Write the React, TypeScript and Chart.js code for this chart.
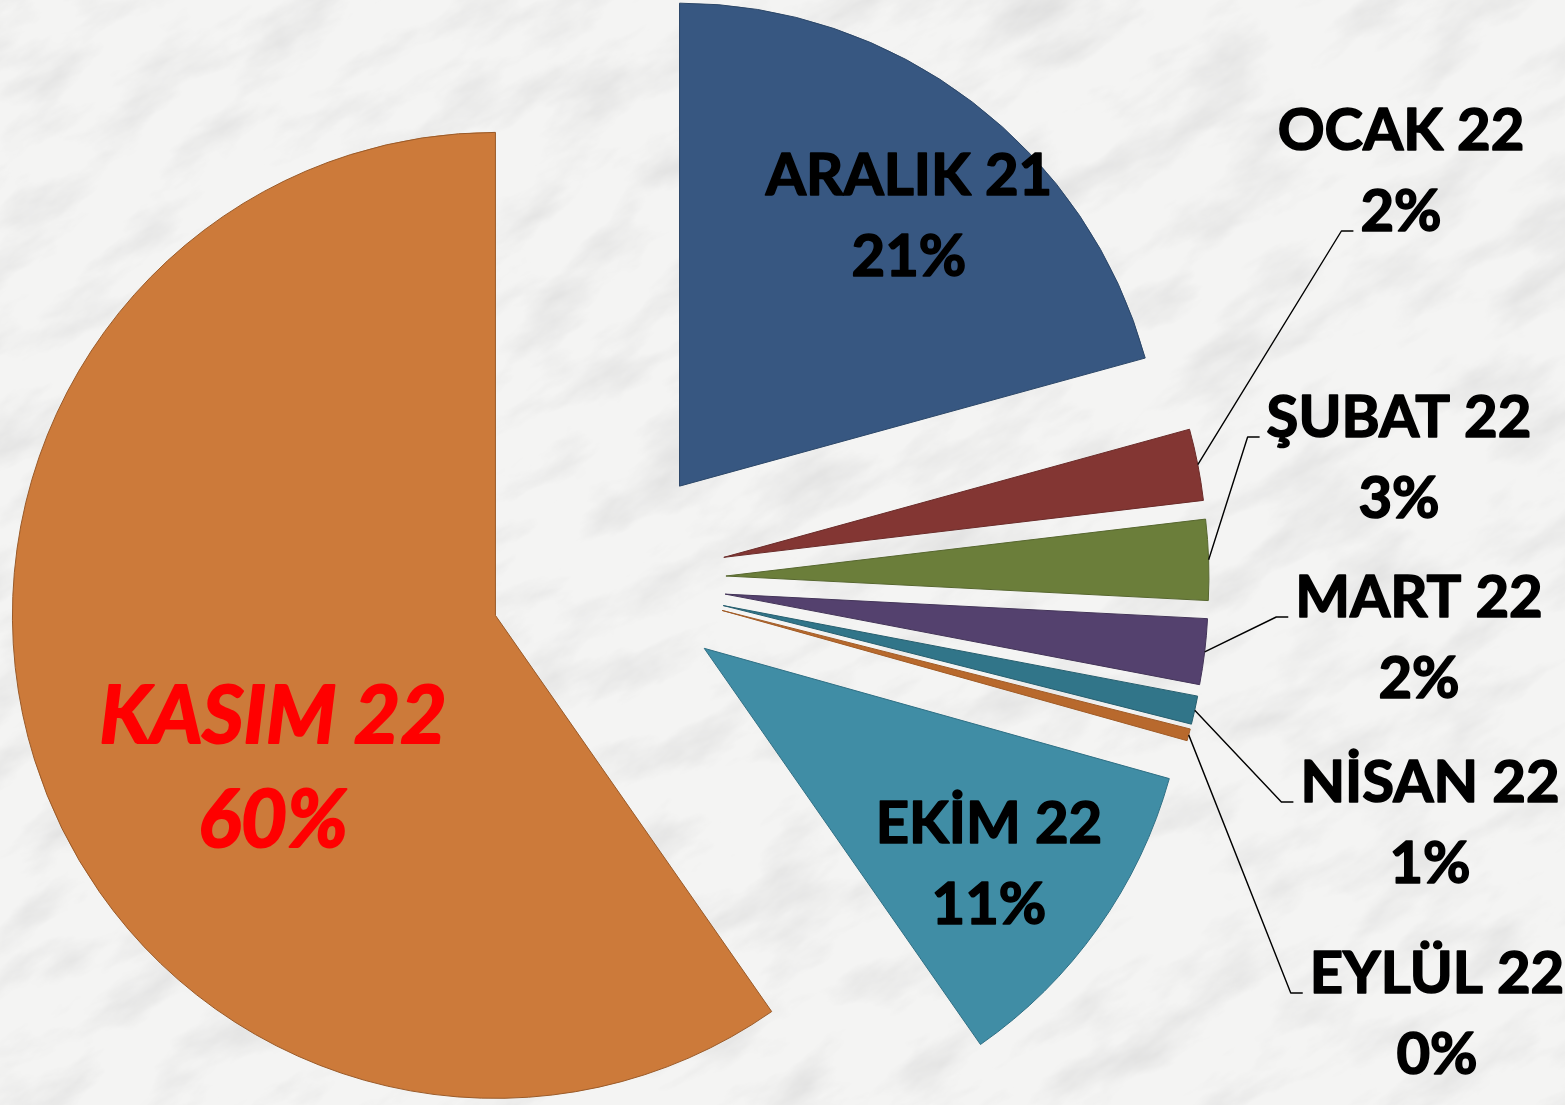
import React, { useEffect, useRef } from 'react';
import { Chart, registerables } from 'chart.js';

Chart.register(...registerables);

// ---- data ----
const categories = ['ARALIK 21', 'OCAK 22', 'ŞUBAT 22', 'MART 22', 'NİSAN 22', 'EYLÜL 22', 'EKİM 22', 'KASIM 22'];
const values = [20.8, 2.4, 2.7, 2.2, 0.95, 0.4, 11.0, 59.9];

// ---- styles ----
const sliceColors = ['#375781', '#833633', '#6B7E3A', '#54416E', '#317589', '#B8692D', '#408DA5', '#CC7A3A'];
const sliceBorders = ['#2c4768', '#6a2b29', '#56662e', '#433458', '#265e6e', '#a05b26', '#2f6f84', '#9a5a28'];
const EXPLODE = 118;
const RADIUS = 483;
const FONT_FAMILY = 'Lato, "Open Sans", sans-serif';
const FONT_SIZE = 58;
const BIG_FONT_SIZE = 80;
const SCALE_X = 1;
const LINE_H = 81;
const BIG_LINE_H = 104;
const EMBOLDEN = 1.6;

// label placement relative to pie centre (style/layout, not data)
const labelLayout = [
  { dx: 301, dy: -385, outside: false, big: false, color: '#000' },
  { dx: 793, dy: -430, outside: true, attach: 1, big: false, color: '#000' },
  { dx: 791, dy: -143, outside: true, attach: 0, big: false, color: '#000' },
  { dx: 811, dy: 37, outside: true, attach: 0, big: false, color: '#000' },
  { dx: 822, dy: 222, outside: true, attach: 0, big: false, color: '#000' },
  { dx: 829, dy: 413, outside: true, attach: 0, big: false, color: '#000' },
  { dx: 381, dy: 263, outside: false, big: false, color: '#000' },
  { dx: -335, dy: 163, outside: false, big: true, color: '#FF0000' },
];

const marbleSvg =
  "<svg xmlns='http://www.w3.org/2000/svg' width='1565' height='1105'>" +
  "<filter id='m' x='0' y='0' width='100%' height='100%'>" +
  "<feTurbulence type='fractalNoise' baseFrequency='0.009 0.022' numOctaves='5' seed='11'/>" +
  "<feColorMatrix values='0 0 0 0 0.66  0 0 0 0 0.66  0 0 0 0 0.66  1.3 0 0 0 -0.6'/>" +
  '</filter>' +
  "<rect width='1565' height='1105' fill='#f4f4f3'/>" +
  "<g transform='rotate(-30 782 552)'><rect x='-500' y='-500' width='2600' height='2100' filter='url(#m)'/></g>" +
  '</svg>';
const marbleUrl = 'url("data:image/svg+xml,' + encodeURIComponent(marbleSvg) + '")';

const explodePlugin = {
  id: 'explodeSlices',
  beforeDatasetsDraw(chart: any) {
    const meta = chart.getDatasetMeta(0);
    meta.data.forEach((arc: any) => {
      if (arc.__exploded) return;
      arc.__exploded = true;
      const base = arc.draw.bind(arc);
      arc.draw = (ctx: CanvasRenderingContext2D, area: any) => {
        const mid = (arc.startAngle + arc.endAngle) / 2;
        ctx.save();
        ctx.translate(Math.cos(mid) * EXPLODE, Math.sin(mid) * EXPLODE);
        base(ctx, area);
        ctx.restore();
      };
    });
  },
};

const labelPlugin = {
  id: 'sliceLabels',
  afterDatasetsDraw(chart: any) {
    const ctx: CanvasRenderingContext2D = chart.ctx;
    const meta = chart.getDatasetMeta(0);
    const data: number[] = chart.data.datasets[0].data;
    const total = data.reduce((a, b) => a + b, 0);
    meta.data.forEach((arc: any, i: number) => {
      const lay = labelLayout[i];
      const cx = arc.x;
      const cy = arc.y;
      const pct = Math.round((data[i] / total) * 100) + '%';
      const lines = [chart.data.labels[i], pct];
      const size = lay.big ? BIG_FONT_SIZE : FONT_SIZE;
      const lh = lay.big ? BIG_LINE_H : LINE_H;
      const font = (lay.big ? 'italic ' : '') + 'bold ' + size + 'px ' + FONT_FAMILY;
      const tx = cx + lay.dx;
      const ty = cy + lay.dy;
      ctx.save();
      ctx.font = font;
      ctx.fillStyle = lay.color;
      ctx.strokeStyle = lay.color;
      ctx.lineWidth = lay.big ? EMBOLDEN * 1.3 : EMBOLDEN;
      ctx.lineJoin = 'round';
      ctx.textAlign = 'center';
      ctx.textBaseline = 'alphabetic';
      const widths: number[] = [];
      lines.forEach((t: string, k: number) => {
        widths.push(ctx.measureText(t).width * SCALE_X);
        ctx.save();
        ctx.translate(tx, ty + k * lh);
        ctx.scale(SCALE_X, 1);
        ctx.fillText(t, 0, 0);
        ctx.strokeText(t, 0, 0);
        ctx.restore();
      });
      if (lay.outside) {
        const a = lay.attach || 0;
        const mid = (arc.startAngle + arc.endAngle) / 2;
        const r = arc.outerRadius + EXPLODE;
        const sx = cx + Math.cos(mid) * r;
        const sy = cy + Math.sin(mid) * r;
        const ey = ty + a * lh;
        const ex = tx - widths[a] / 2 - 7;
        ctx.beginPath();
        ctx.moveTo(sx, sy);
        ctx.lineTo(ex - 12, ey);
        ctx.lineTo(ex, ey);
        ctx.strokeStyle = '#000';
        ctx.lineWidth = 1.4;
        ctx.stroke();
      }
      ctx.restore();
    });
  },
};

export default function App() {
  const ref = useRef<HTMLCanvasElement>(null);
  useEffect(() => {
    if (!ref.current) return;
    const chart = new Chart(ref.current, {
      type: 'pie',
      data: {
        labels: categories,
        datasets: [
          {
            data: values,
            backgroundColor: sliceColors,
            borderColor: sliceBorders,
            borderWidth: 1,
            radius: RADIUS,
            clip: false,
          } as any,
        ],
      },
      options: {
        responsive: false,
        maintainAspectRatio: false,
        animation: false,
        events: [],
        layout: { padding: { left: 0, right: 349, top: 55, bottom: 0 } },
        plugins: {
          legend: { display: false },
          tooltip: { enabled: false },
          title: { display: false },
        },
      } as any,
      plugins: [explodePlugin, labelPlugin],
    });
    return () => chart.destroy();
  }, []);
  return (
    <div
      style={{
        position: 'fixed',
        left: 0,
        top: 0,
        width: 1565,
        height: 1105,
        overflow: 'hidden',
        backgroundColor: '#f0f0f0',
        backgroundImage: marbleUrl,
        backgroundSize: '1565px 1105px',
      }}
    >
      <canvas ref={ref} width={1565} height={1105} style={{ display: 'block', width: 1565, height: 1105 }} />
    </div>
  );
}
